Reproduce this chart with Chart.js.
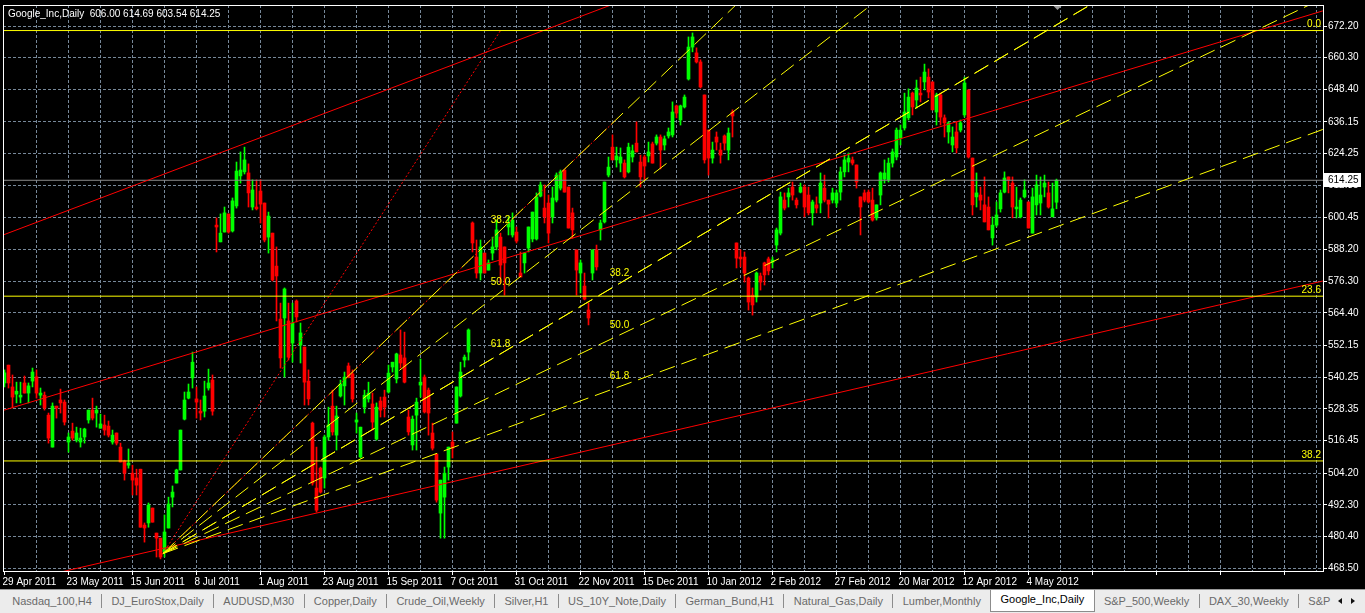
<!DOCTYPE html>
<html>
<head>
<meta charset="utf-8">
<title>Google_Inc,Daily</title>
<script src="https://cdn.jsdelivr.net/npm/chart.js@4.4.1/dist/chart.umd.min.js"></script>
<style>
  html, body { margin: 0; padding: 0; background: #000; overflow: hidden; }
  #wrap { position: relative; width: 1365px; height: 613px; }
  #chart { position: absolute; left: 0; top: 0; }
  #tabs {
    position: absolute; left: 0; top: 589px; width: 1365px; height: 24px;
    background: #ececec; border-top: 1px solid #9a9a9a; box-sizing: border-box;
    font: 11px 'Liberation Sans', sans-serif; color: #6a6a6a;
    display: flex; align-items: flex-start; padding-left: 3px; overflow: hidden;
  }
  .tab { margin-top: 4px; padding: 0 9.3px; height: 14px; line-height: 14px; border-right: 1px solid #8c8c8c; white-space: nowrap; }
  .tab.nosep { border-right: none; }
  .tab.active { margin-top: 0; background: #fff; border: 1px solid #8c8c8c; border-top: none; height: 21px; line-height: 19px; color: #000; }
  .arrow { position: absolute; top: 598px; width: 0; height: 0; border-top: 3.5px solid transparent; border-bottom: 3.5px solid transparent; }
  #arrL { left: 1338px; border-right: 4px solid #111; }
  #arrR { left: 1351px; border-left: 4px solid #111; }
</style>
</head>
<body>
<div id="wrap">
  <canvas id="chart" width="1365" height="590"></canvas>
  <div id="tabs"></div>
  <div id="arrL" class="arrow"></div>
  <div id="arrR" class="arrow"></div>
</div>
<script>
// Google_Inc daily candles, 29 Apr 2011 .. mid May 2012
const opens = [
  538.1, 544.8, 536.6, 533.9, 532.8, 538.1, 534.3, 538.8, 540.4, 533.5,
  533.5, 526.0, 514.0, 529.4, 531.7, 530.9, 515.9, 520.0, 516.6, 515.9,
  517.8, 524.2, 527.9, 526.8, 521.1, 522.3, 521.9, 515.9, 519.3, 514.0,
  508.8, 507.2, 504.2, 502.4, 505.7, 484.7, 485.5, 491.1, 481.7, 479.8,
  474.6, 483.6, 495.2, 500.5, 505.4, 524.5, 532.4, 540.0, 532.1, 527.5,
  527.5, 536.2, 539.2, 597.4, 591.1, 594.8, 601.6, 595.2, 604.6, 615.9,
  617.4, 617.0, 604.2, 604.2, 610.2, 605.7, 592.9, 594.4, 582.0, 562.1,
  562.5, 561.4, 553.1, 568.9, 552.3, 551.6, 538.8, 523.0, 498.6, 506.1,
  502.4, 517.8, 529.4, 518.5, 533.2, 537.0, 544.5, 541.5, 523.4, 510.3,
  529.0, 532.1, 530.2, 517.0, 531.3, 532.8, 534.7, 544.1, 539.6, 548.6,
  547.5, 525.3, 514.8, 526.0, 537.3, 540.3, 535.4, 519.3, 511.4, 489.2,
  495.2, 506.5, 515.9, 523.0, 533.2, 546.7, 549.7, 598.2, 585.4, 579.4,
  586.9, 580.5, 586.9, 589.2, 592.9, 589.2, 596.7, 593.7, 594.8, 579.4,
  583.2, 588.8, 592.2, 592.2, 608.3, 603.8, 605.7, 600.5, 606.8, 611.3,
  618.1, 611.7, 602.0, 588.1, 579.4, 574.5, 565.5, 579.4, 588.1, 595.6,
  598.6, 616.2, 626.7, 621.9, 620.7, 620.7, 617.4, 623.0, 628.2, 621.1,
  623.0, 623.4, 627.9, 628.2, 630.5, 627.5, 630.9, 631.3, 642.2, 636.9,
  641.8, 652.3, 664.3, 662.1, 658.7, 646.3, 633.1, 622.6, 630.5, 625.6,
  630.9, 625.6, 639.9, 590.7, 585.4, 585.4, 577.5, 571.1, 570.4, 578.3,
  583.2, 584.7, 583.5, 589.9, 594.4, 606.8, 608.0, 611.7, 606.8, 609.8,
  611.7, 608.7, 602.0, 605.0, 605.7, 611.3, 606.8, 606.8, 605.7, 609.8,
  617.4, 621.1, 621.9, 620.0, 608.0, 609.5, 609.8, 606.8, 600.1, 608.7,
  614.7, 614.4, 620.7, 623.0, 630.1, 633.9, 637.7, 647.0, 644.4, 647.0,
  651.2, 653.0, 651.2, 639.9, 646.3, 637.7, 632.4, 627.5, 632.4, 633.1,
  638.8, 648.2, 622.6, 608.0, 608.7, 605.0, 604.2, 592.6, 597.4, 603.5,
  609.8, 615.5, 613.2, 603.5, 600.5, 608.0, 606.1, 594.4, 605.0, 605.7,
  611.7, 609.5, 600.5, 606.00
];
const highs = [
  543.0, 544.8, 541.1, 538.4, 538.4, 540.7, 538.1, 543.7, 543.0, 536.2,
  534.7, 526.8, 530.6, 529.4, 535.8, 531.7, 519.3, 523.0, 521.5, 521.1,
  521.1, 527.9, 532.4, 529.4, 526.4, 526.0, 523.8, 520.4, 519.3, 515.5,
  509.1, 513.3, 507.2, 505.7, 505.7, 485.5, 493.0, 491.1, 481.7, 479.8,
  488.5, 495.2, 499.4, 505.7, 520.4, 534.7, 537.7, 549.7, 536.6, 531.7,
  538.8, 543.3, 541.1, 600.1, 601.6, 604.2, 601.6, 607.6, 621.1, 624.9,
  626.7, 620.4, 614.4, 614.4, 614.4, 605.7, 602.3, 594.4, 589.2, 568.1,
  573.8, 568.1, 568.1, 569.3, 560.6, 551.6, 543.0, 523.4, 514.0, 506.5,
  518.5, 529.0, 535.4, 529.4, 539.2, 542.2, 545.6, 543.0, 526.8, 521.5,
  535.4, 538.4, 534.3, 530.6, 532.8, 535.4, 544.8, 545.9, 549.3, 558.0,
  557.2, 527.9, 525.7, 532.4, 547.1, 541.1, 536.2, 523.0, 511.4, 501.6,
  506.5, 514.0, 519.7, 536.6, 545.9, 548.6, 558.4, 598.6, 591.8, 591.8,
  586.9, 584.3, 592.9, 599.3, 594.4, 589.2, 600.5, 602.0, 596.7, 587.3,
  586.9, 596.7, 602.3, 609.5, 613.6, 612.5, 608.7, 611.7, 617.0, 618.1,
  618.1, 611.7, 603.8, 588.1, 584.3, 579.4, 568.1, 588.1, 589.9, 599.3,
  613.6, 623.0, 631.3, 626.7, 626.4, 621.9, 628.2, 627.5, 636.2, 623.7,
  623.7, 628.6, 628.6, 631.3, 631.3, 630.9, 633.9, 643.7, 642.5, 642.5,
  646.3, 668.1, 669.6, 664.0, 659.5, 646.3, 633.1, 628.6, 632.4, 628.2,
  631.3, 633.9, 640.7, 590.7, 588.1, 587.3, 577.9, 573.8, 579.8, 579.4,
  583.5, 585.4, 585.4, 596.3, 609.8, 609.5, 611.3, 613.6, 607.6, 613.2,
  612.5, 611.7, 606.8, 608.0, 617.0, 616.2, 606.8, 611.3, 610.6, 619.2,
  623.7, 624.5, 623.0, 620.0, 608.0, 610.6, 610.6, 611.3, 605.0, 617.4,
  621.9, 622.6, 626.0, 633.9, 635.0, 647.0, 648.6, 647.4, 651.9, 653.0,
  657.9, 656.1, 651.2, 647.0, 647.0, 638.8, 636.2, 634.3, 636.2, 636.9,
  653.0, 648.2, 622.6, 617.0, 611.7, 615.5, 608.0, 600.5, 606.1, 610.6,
  617.4, 615.5, 615.5, 611.7, 607.6, 614.4, 606.1, 611.3, 616.2, 615.5,
  616.2, 613.6, 613.2, 614.69
];
const lows = [
  536.6, 536.2, 528.7, 530.6, 530.6, 534.3, 530.6, 536.6, 532.4, 529.8,
  527.9, 515.5, 514.0, 524.9, 526.8, 522.3, 512.1, 516.6, 515.9, 514.0,
  515.5, 523.0, 524.2, 521.5, 521.1, 518.5, 517.8, 515.1, 514.8, 508.4,
  501.6, 506.1, 496.0, 496.0, 483.9, 478.3, 483.9, 485.8, 472.7, 472.0,
  472.7, 483.6, 491.5, 500.5, 505.4, 524.2, 532.1, 536.2, 524.9, 524.2,
  525.3, 535.4, 526.0, 587.3, 591.1, 594.8, 594.4, 594.8, 603.8, 613.2,
  616.6, 604.2, 603.1, 603.1, 598.2, 591.1, 586.9, 576.4, 561.4, 543.7,
  540.3, 546.7, 545.9, 561.0, 545.6, 529.8, 529.8, 499.7, 489.6, 496.7,
  498.6, 516.6, 518.5, 512.9, 532.8, 529.8, 540.0, 530.9, 519.3, 509.9,
  526.8, 530.9, 520.4, 516.6, 525.3, 525.3, 534.3, 542.2, 538.1, 543.7,
  538.1, 518.5, 512.9, 512.9, 532.8, 526.8, 518.5, 512.9, 493.3, 479.8,
  479.8, 501.6, 509.9, 523.0, 532.8, 544.1, 546.7, 587.3, 577.5, 576.8,
  579.4, 580.5, 584.3, 588.1, 575.6, 571.1, 593.7, 592.9, 590.7, 577.9,
  579.4, 587.3, 591.1, 591.8, 608.0, 598.2, 590.7, 598.2, 606.1, 610.6,
  609.8, 596.3, 592.5, 571.1, 571.9, 569.3, 559.9, 576.8, 580.5, 591.8,
  598.2, 615.5, 621.9, 619.2, 617.4, 615.1, 617.0, 621.1, 624.9, 611.7,
  614.4, 621.1, 620.7, 627.5, 618.5, 625.6, 630.1, 630.5, 637.7, 635.0,
  641.4, 651.9, 662.5, 658.3, 648.9, 620.7, 616.2, 620.7, 625.6, 620.7,
  625.6, 621.9, 630.5, 581.3, 581.7, 576.0, 565.5, 563.6, 568.5, 573.0,
  574.9, 578.7, 581.3, 587.3, 593.7, 603.1, 604.2, 606.8, 603.8, 609.5,
  600.5, 601.2, 597.4, 602.0, 602.0, 606.1, 600.1, 605.7, 604.2, 606.8,
  615.5, 617.4, 620.0, 611.3, 593.7, 606.1, 605.7, 598.9, 599.3, 605.0,
  613.2, 613.6, 619.2, 621.9, 627.5, 633.1, 636.9, 638.8, 641.4, 643.7,
  648.2, 645.2, 640.7, 635.0, 635.0, 630.5, 628.2, 624.9, 624.5, 632.4,
  638.0, 622.6, 601.2, 604.2, 603.1, 598.6, 595.6, 589.9, 596.7, 602.3,
  609.5, 609.5, 600.1, 600.1, 600.1, 607.6, 596.3, 594.4, 601.2, 601.2,
  608.0, 603.8, 600.5, 603.54
];
const closes = [
  541.9, 538.1, 532.8, 535.0, 533.5, 534.3, 537.0, 542.2, 534.3, 534.3,
  528.7, 517.4, 529.4, 528.7, 530.6, 523.4, 517.8, 517.4, 519.3, 517.4,
  520.8, 527.9, 524.9, 527.9, 522.7, 520.4, 518.5, 518.5, 515.5, 508.4,
  504.2, 508.0, 501.6, 499.7, 483.9, 483.6, 492.2, 485.8, 479.8, 472.7,
  482.1, 492.6, 497.1, 505.4, 520.4, 531.7, 534.7, 545.9, 530.9, 526.8,
  533.2, 538.1, 527.5, 596.7, 594.4, 602.0, 594.8, 606.5, 617.7, 618.1,
  621.9, 609.5, 610.6, 603.5, 605.3, 591.8, 600.8, 576.8, 578.3, 547.5,
  573.4, 547.8, 560.6, 562.9, 556.9, 538.4, 532.1, 500.5, 490.3, 497.1,
  517.8, 522.3, 519.7, 525.7, 537.7, 540.3, 540.3, 532.1, 524.2, 521.5,
  533.5, 534.3, 523.4, 529.0, 527.9, 529.0, 541.8, 545.9, 549.0, 545.6,
  538.4, 519.7, 524.5, 530.9, 538.4, 527.2, 526.8, 513.6, 494.1, 501.6,
  504.2, 514.0, 513.6, 536.6, 542.2, 547.8, 558.0, 590.7, 579.4, 589.2,
  579.4, 583.2, 589.2, 595.6, 582.4, 583.2, 598.2, 599.3, 591.4, 577.9,
  586.9, 596.7, 602.3, 608.0, 612.5, 600.5, 594.4, 607.6, 616.2, 617.4,
  609.8, 596.3, 595.6, 580.5, 583.2, 569.6, 562.5, 588.1, 581.7, 598.2,
  613.6, 619.2, 621.9, 623.4, 623.0, 615.5, 626.7, 625.3, 624.9, 615.5,
  619.6, 624.9, 620.7, 630.5, 625.6, 629.8, 632.4, 639.9, 639.5, 642.2,
  645.5, 664.3, 668.1, 658.7, 649.3, 621.9, 622.6, 625.6, 628.6, 623.7,
  628.2, 632.0, 638.4, 585.0, 584.7, 579.4, 568.5, 567.4, 579.4, 576.0,
  578.7, 580.2, 584.3, 595.6, 608.0, 603.8, 609.5, 608.7, 605.0, 611.7,
  604.2, 602.0, 606.1, 603.8, 613.2, 606.8, 605.3, 609.5, 609.5, 617.4,
  621.9, 622.6, 620.7, 613.6, 604.2, 606.8, 606.1, 599.3, 605.0, 617.0,
  617.0, 620.7, 624.9, 633.1, 633.1, 639.9, 645.5, 641.8, 648.9, 646.3,
  654.9, 647.4, 640.7, 646.3, 638.0, 635.8, 635.8, 630.5, 626.4, 635.8,
  650.8, 623.0, 605.0, 609.5, 606.8, 598.6, 595.6, 597.4, 601.2, 609.5,
  615.1, 614.4, 604.2, 604.2, 606.8, 610.6, 596.3, 608.0, 612.5, 608.7,
  613.2, 604.2, 603.5, 614.25
];

// time axis labels, one every 16 bars
const dateLabels = [
  '29 Apr 2011', '23 May 2011', '15 Jun 2011', '8 Jul 2011', '1 Aug 2011',
  '23 Aug 2011', '15 Sep 2011', '7 Oct 2011', '31 Oct 2011', '22 Nov 2011',
  '15 Dec 2011', '10 Jan 2012', '2 Feb 2012', '27 Feb 2012', '20 Mar 2012',
  '12 Apr 2012', '4 May 2012'
];
const priceTicks = [
  672.20, 660.30, 648.40, 636.15, 624.25, 612.35, 600.45, 588.20, 576.30,
  564.40, 552.15, 540.25, 528.35, 516.45, 504.20, 492.30, 480.40, 468.50
];
const lastPrice = 614.25;
const titleText = 'Google_Inc,Daily  606.00 614.69 603.54 614.25';

// horizontal fibo retracement
const retraceLevels = ['0.0', '23.6', '38.2'];
const retracePrices = [670.5, 570.7, 508.8];

// two fibo fans from the June 2011 low, [bar, price]
const fanPivot = [39.6, 474.0];
const fanEnds = [[124.0, 670.5], [153.75, 638.2]];
const fanLevels = [38.2, 50.0, 61.8];

// red channel lines, [[bar, price], [bar, price]]
const redLines = [
  [[-0.5, 593.6], [151.6, 680.1]],
  [[-0.5, 527.7], [329.6, 677.9]],
  [[13.9, 467.0], [329.6, 576.4]]
];

const tabNames = [
  'Nasdaq_100,H4', 'DJ_EuroStox,Daily', 'AUDUSD,M30', 'Copper,Daily', 'Crude_Oil,Weekly',
  'Silver,H1', 'US_10Y_Note,Daily', 'German_Bund,H1', 'Natural_Gas,Daily', 'Lumber,Monthly',
  'Google_Inc,Daily', 'S&P_500,Weekly', 'DAX_30,Weekly', 'S&P'
];
const activeTab = 10;

const FONT = "'Liberation Sans', Arial, sans-serif";
const GRID = '#778899';
const UP = '#00ff00';
const DOWN = '#ff0000';
const YELLOW = '#ffff00';
const X_MIN = -0.375;
const X_MAX = 329.625;

Chart.defaults.font.family = FONT;

const barColors = closes.map((c, i) => (c >= opens[i] ? UP : DOWN));

function lineSet(points, color, dash, order) {
  return {
    type: 'line',
    data: points.map(p => ({ x: p[0], y: p[1] })),
    borderColor: color,
    borderWidth: 1,
    borderDash: dash || [],
    pointRadius: 0,
    fill: false,
    tension: 0,
    order: order == null ? 1 : order,
  };
}

const datasets = [
  {
    type: 'bar',
    data: lows.map((l, i) => ({ x: i, y: [l, highs[i]] })),
    backgroundColor: barColors,
    barThickness: 1,
    grouped: false,
    borderWidth: 0,
    order: 4,
  },
  {
    type: 'bar',
    data: opens.map((o, i) => ({ x: i, y: [o, closes[i]] })),
    backgroundColor: barColors,
    barThickness: 3,
    minBarLength: 1,
    grouped: false,
    borderWidth: 0,
    order: 3,
  },
];

// bid line
datasets.push(lineSet([[X_MIN, lastPrice], [X_MAX, lastPrice]], '#8c8c8c', null, 2));

// retracement levels
retracePrices.forEach(p => {
  datasets.push(lineSet([[X_MIN, p], [X_MAX, p]], YELLOW));
});

// red channel
redLines.forEach(seg => datasets.push(lineSet(seg, '#ff0000')));

// fans: red dotted trend line + yellow dashed rays to the right edge
const fanLabelSpots = [];
fanEnds.forEach(end => {
  datasets.push(lineSet([fanPivot, end], '#ff0000', [2, 2]));
  fanLevels.forEach(lv => {
    const lvPrice = end[1] - (end[1] - fanPivot[1]) * lv / 100;
    const slope = (lvPrice - fanPivot[1]) / (end[0] - fanPivot[0]);
    const rayEnd = [X_MAX, fanPivot[1] + slope * (X_MAX - fanPivot[0])];
    datasets.push(lineSet([fanPivot, rayEnd], YELLOW, [16, 7], 0));
    fanLabelSpots.push({ x: end[0], y: lvPrice, text: lv.toFixed(1) });
  });
});

const gridBars = [];
for (let b = 0; b <= 328; b += 8) gridBars.push(b);

const decor = {
  id: 'decor',
  afterDatasetsDraw(chart) {
    const { ctx, chartArea, scales: { x, y } } = chart;
    ctx.save();
    ctx.font = '10px ' + FONT;
    ctx.fillStyle = YELLOW;
    ctx.textBaseline = 'middle';
    ctx.textAlign = 'center';
    fanLabelSpots.forEach(s => {
      ctx.fillText(s.text, x.getPixelForValue(s.x), y.getPixelForValue(s.y) - 10);
    });
    ctx.textAlign = 'right';
    retracePrices.forEach((p, i) => {
      ctx.fillText(retraceLevels[i], chartArea.right - 2, y.getPixelForValue(p) - 6);
    });
    ctx.restore();
  },
  afterDraw(chart) {
    const { ctx, chartArea, scales: { x, y } } = chart;
    const { left, top, right, bottom } = chartArea;
    ctx.save();
    // frame
    ctx.strokeStyle = '#ffffff';
    ctx.lineWidth = 1;
    ctx.strokeRect(left + 0.5, top + 0.5, right - left, bottom - top);

    // bid price box on the axis
    const py = Math.round(y.getPixelForValue(lastPrice));
    ctx.fillStyle = '#ffffff';
    ctx.fillRect(right + 1, py - 7, 37, 14);
    ctx.fillStyle = '#000000';
    ctx.font = '10px ' + FONT;
    ctx.textAlign = 'left';
    ctx.textBaseline = 'middle';
    ctx.fillText(lastPrice.toFixed(2), right + 5, py + 0.5);

    // symbol / OHLC caption
    ctx.fillStyle = '#ffffff';
    ctx.fillText(titleText, 8, 14);

    // chart shift marker
    const sx = Math.round(x.getPixelForValue(opens.length - 1)) + 0.5;
    ctx.fillStyle = '#9a9a9a';
    ctx.beginPath();
    ctx.moveTo(sx - 4, top + 1);
    ctx.lineTo(sx + 4, top + 1);
    ctx.lineTo(sx, top + 5);
    ctx.closePath();
    ctx.fill();
    ctx.restore();
  },
};

new Chart(document.getElementById('chart'), {
  type: 'bar',
  data: { datasets },
  options: {
    responsive: false,
    animation: false,
    events: [],
    layout: { padding: { left: 3, top: 5, right: 0, bottom: 0 } },
    plugins: {
      legend: { display: false },
      tooltip: { enabled: false },
    },
    scales: {
      x: {
        type: 'linear',
        min: X_MIN,
        max: X_MAX,
        offset: false,
        afterBuildTicks: s => { s.ticks = gridBars.map(v => ({ value: v })); },
        afterFit: s => { s.height = 19; s.paddingLeft = 0; s.paddingRight = 0; },
        grid: {
          offset: false,
          color: c => (c.tick && c.tick.value === 0 ? 'rgba(0,0,0,0)' : GRID),
          tickColor: c => (c.tick && c.tick.value % 16 === 0 ? '#ffffff' : 'rgba(0,0,0,0)'),
          tickLength: 4,
        },
        border: { display: false, dash: [3, 2] },
        ticks: {
          autoSkip: false,
          maxRotation: 0,
          align: 'start',
          labelOffset: -2,
          padding: 1,
          color: '#ffffff',
          font: { family: FONT, size: 10 },
          callback: v => (v % 16 === 0 ? (dateLabels[v / 16] || '') : ''),
        },
      },
      y: {
        position: 'right',
        min: 467.45,
        max: 680.1,
        afterBuildTicks: s => { s.ticks = priceTicks.map(v => ({ value: v })); },
        afterFit: s => { s.width = 42; s.paddingTop = 0; s.paddingBottom = 0; },
        grid: { color: GRID, tickColor: '#ffffff', tickLength: 4 },
        border: { display: false, dash: [3, 2] },
        ticks: {
          padding: 1,
          color: '#ffffff',
          font: { family: FONT, size: 10 },
          callback: v => v.toFixed(2),
        },
      },
    },
  },
  plugins: [decor],
});

// terminal tab bar
const tabs = document.getElementById('tabs');
tabNames.forEach((name, i) => {
  const el = document.createElement('div');
  el.className = 'tab';
  if (i === activeTab) el.className += ' active';
  if (i === activeTab - 1 || i === tabNames.length - 1) el.className += ' nosep';
  el.textContent = name;
  tabs.appendChild(el);
});
</script>
</body>
</html>
